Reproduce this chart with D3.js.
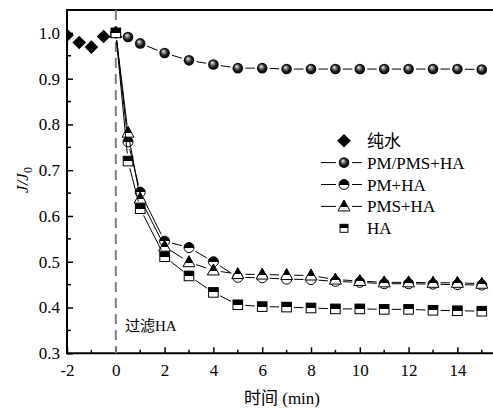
<!DOCTYPE html>
<html>
<head>
<meta charset="utf-8">
<script src="https://cdn.jsdelivr.net/npm/d3@7"></script>
<style>
  html, body { margin: 0; padding: 0; background: #fff; }
  svg { display: block; }
  text { font-family: "Liberation Serif", "Times New Roman", "Noto Sans CJK SC", serif; fill: #000; }
</style>
</head>
<body>
<svg id="chart" width="493" height="410"></svg>
<script>
// ---- data ----
const waterTime = [-2, -1.5, -1, -0.5];
const waterValues = [0.995, 0.979, 0.969, 0.992];
const time = [0, 0.5, 1, 2, 3, 4, 5, 6, 7, 8, 9, 10, 11, 12, 13, 14, 15];
const pmPmsHa = [1.0, 0.991, 0.977, 0.956, 0.94, 0.931, 0.923, 0.923, 0.921, 0.921, 0.921, 0.921, 0.921, 0.921, 0.921, 0.921, 0.92];
const pmHa    = [1.0, 0.762, 0.652, 0.545, 0.531, 0.5, 0.466, 0.465, 0.462, 0.461, 0.457, 0.455, 0.452, 0.452, 0.451, 0.45, 0.449];
const pmsHa   = [1.0, 0.782, 0.638, 0.533, 0.499, 0.481, 0.473, 0.472, 0.471, 0.47, 0.461, 0.458, 0.455, 0.455, 0.454, 0.454, 0.452];
const ha      = [1.0, 0.72, 0.616, 0.511, 0.469, 0.433, 0.406, 0.402, 0.401, 0.399, 0.397, 0.397, 0.396, 0.396, 0.394, 0.393, 0.392];
const legendLabels = ["纯水", "PM/PMS+HA", "PM+HA", "PMS+HA", "HA"];
const xTicks = [-2, 0, 2, 4, 6, 8, 10, 12, 14];
const yTicks = [0.3, 0.4, 0.5, 0.6, 0.7, 0.8, 0.9, 1.0];
const filterLabel = "过滤HA";
const xTitle = "时间 (min)";

// ---- layout ----
const svg = d3.select("#chart");
const L = 67, R = 494, T = 10, B = 353.3;
const x = d3.scaleLinear().domain([-2, 15.5]).range([L, R]);
const y = d3.scaleLinear().domain([0.3, 1.05]).range([B, T]);

const defs = svg.append("defs");
defs.append("clipPath").attr("id", "clip").append("rect")
  .attr("x", L).attr("y", T).attr("width", R - L).attr("height", B - T);
const sph = defs.append("radialGradient").attr("id", "sphere")
  .attr("cx", "0.5").attr("cy", "0.5").attr("r", "0.55").attr("fx", "0.38").attr("fy", "0.32");
sph.append("stop").attr("offset", "0").attr("stop-color", "#ffffff");
sph.append("stop").attr("offset", "0.22").attr("stop-color", "#9a9a9a");
sph.append("stop").attr("offset", "0.6").attr("stop-color", "#1a1a1a");
sph.append("stop").attr("offset", "1").attr("stop-color", "#000000");
const half = defs.append("linearGradient").attr("id", "half")
  .attr("x1", 0).attr("y1", 0).attr("x2", 0).attr("y2", 1);
half.append("stop").attr("offset", "0.5").attr("stop-color", "#000");
half.append("stop").attr("offset", "0.5").attr("stop-color", "#fff");
const halfTri = defs.append("linearGradient").attr("id", "halftri")
  .attr("x1", 0).attr("y1", 0).attr("x2", 0).attr("y2", 1);
halfTri.append("stop").attr("offset", "0.62").attr("stop-color", "#000");
halfTri.append("stop").attr("offset", "0.62").attr("stop-color", "#fff");

// ---- axes ----
const xAxis = d3.axisBottom(x).tickValues(xTicks).tickSize(-6).tickPadding(11)
  .tickFormat(d => d < 0 ? "-" + Math.abs(d) : d);
const gx = svg.append("g").attr("transform", `translate(0,${B})`).call(xAxis);
gx.select(".domain").remove();
gx.selectAll("line").attr("stroke", "#000").attr("stroke-width", 1.5);
gx.selectAll("text").attr("font-size", 17);
svg.append("g").selectAll("line").data(d3.range(-1, 16, 2)).join("line")
  .attr("x1", d => x(d)).attr("x2", d => x(d)).attr("y1", B).attr("y2", B - 3.5)
  .attr("stroke", "#000").attr("stroke-width", 1.5);

const yAxis = d3.axisLeft(y).tickValues(yTicks).tickSize(-6).tickPadding(7)
  .tickFormat(d3.format(".1f"));
const gy = svg.append("g").attr("transform", `translate(${L},0)`).call(yAxis);
gy.select(".domain").remove();
gy.selectAll("line").attr("stroke", "#000").attr("stroke-width", 1.5);
gy.selectAll("text").attr("font-size", 17);
svg.append("g").selectAll("line").data(d3.range(0.35, 1.0, 0.1)).join("line")
  .attr("x1", L).attr("x2", L + 4).attr("y1", d => y(d)).attr("y2", d => y(d))
  .attr("stroke", "#000").attr("stroke-width", 1.5);

// frame
svg.append("path")
  .attr("d", `M${R},${T}H${L}V${B}H${R}`)
  .attr("fill", "none").attr("stroke", "#000").attr("stroke-width", 2);

// titles
svg.append("text").attr("x", 282).attr("y", 404).attr("text-anchor", "middle")
  .attr("font-size", 17).text(xTitle);
const yl = svg.append("text").attr("transform", "translate(28,180) rotate(-90)")
  .attr("text-anchor", "middle").attr("font-size", 17);
yl.append("tspan").attr("font-style", "italic").text("J/J");
yl.append("tspan").attr("font-size", 12).attr("dy", 4).text("0");

// dashed filter line
svg.append("line").attr("x1", x(0)).attr("x2", x(0)).attr("y1", T).attr("y2", B)
  .attr("stroke", "#808080").attr("stroke-width", 2).attr("stroke-dasharray", "10,6");
svg.append("text").attr("x", 125).attr("y", 331).attr("font-size", 15).text(filterLabel);

// ---- series ----
const plot = svg.append("g").attr("clip-path", "url(#clip)");
const seriesList = [
  { vals: pmPmsHa, shape: "sphere" },
  { vals: pmHa, shape: "halfcircle" },
  { vals: pmsHa, shape: "triangle" },
  { vals: ha, shape: "square" }
];

function gapSegments(xs, ys, gap) {
  const segs = [];
  for (let i = 0; i < xs.length - 1; i++) {
    const x1 = x(xs[i]), y1 = y(ys[i]), x2 = x(xs[i + 1]), y2 = y(ys[i + 1]);
    const dx = x2 - x1, dy = y2 - y1, len = Math.hypot(dx, dy);
    if (len <= 2 * gap) continue;
    const ux = dx / len, uy = dy / len;
    segs.push([x1 + ux * gap, y1 + uy * gap, x2 - ux * gap, y2 - uy * gap]);
  }
  return segs;
}

function drawMarker(g, shape, cx, cy) {
  if (shape === "sphere") {
    g.append("circle").attr("cx", cx).attr("cy", cy).attr("r", 5.3).attr("fill", "url(#sphere)");
  } else if (shape === "halfcircle") {
    g.append("circle").attr("cx", cx).attr("cy", cy).attr("r", 5).attr("fill", "url(#half)")
      .attr("stroke", "#000").attr("stroke-width", 1);
  } else if (shape === "triangle") {
    g.append("path").attr("d", `M${cx},${cy - 6.5}L${cx + 6},${cy + 4.5}L${cx - 6},${cy + 4.5}Z`)
      .attr("fill", "url(#halftri)").attr("stroke", "#000").attr("stroke-width", 1);
  } else if (shape === "square") {
    g.append("rect").attr("x", cx - 4.8).attr("y", cy - 4.8).attr("width", 9.6).attr("height", 9.6)
      .attr("fill", "url(#half)").attr("stroke", "#000").attr("stroke-width", 1);
  } else if (shape === "diamond") {
    g.append("path").attr("d", `M${cx},${cy - 6.8}L${cx + 6.8},${cy}L${cx},${cy + 6.8}L${cx - 6.8},${cy}Z`)
      .attr("fill", "#000");
  }
}

// water diamonds
waterTime.forEach((t, i) => drawMarker(plot, "diamond", x(t), y(waterValues[i])));

seriesList.forEach(s => {
  const g = plot.append("g");
  g.selectAll("line").data(gapSegments(time, s.vals, 7.5)).join("line")
    .attr("x1", d => d[0]).attr("y1", d => d[1]).attr("x2", d => d[2]).attr("y2", d => d[3])
    .attr("stroke", "#000").attr("stroke-width", 1);
  time.forEach((t, i) => drawMarker(g, s.shape, x(t), y(s.vals[i])));
});

// ---- legend ----
const legShapes = ["diamond", "sphere", "halfcircle", "triangle", "square"];
const legLines = [false, true, true, true, false];
const lg = svg.append("g");
legendLabels.forEach((lab, i) => {
  const cy = 140.7 + i * 21.9, cx = 344;
  if (legLines[i]) {
    lg.append("line").attr("x1", 321).attr("x2", cx - 8).attr("y1", cy).attr("y2", cy)
      .attr("stroke", "#000").attr("stroke-width", 1);
    lg.append("line").attr("x1", cx + 8).attr("x2", 362).attr("y1", cy).attr("y2", cy)
      .attr("stroke", "#000").attr("stroke-width", 1);
  }
  if (legShapes[i] === "square") {
    lg.append("rect").attr("x", cx - 4).attr("y", cy - 4).attr("width", 8).attr("height", 8)
      .attr("fill", "url(#half)").attr("stroke", "#000").attr("stroke-width", 1);
  } else {
    drawMarker(lg, legShapes[i], cx, cy);
  }
  lg.append("text").attr("x", 367).attr("y", cy + 6).attr("font-size", 17).text(lab);
});
</script>
</body>
</html>
